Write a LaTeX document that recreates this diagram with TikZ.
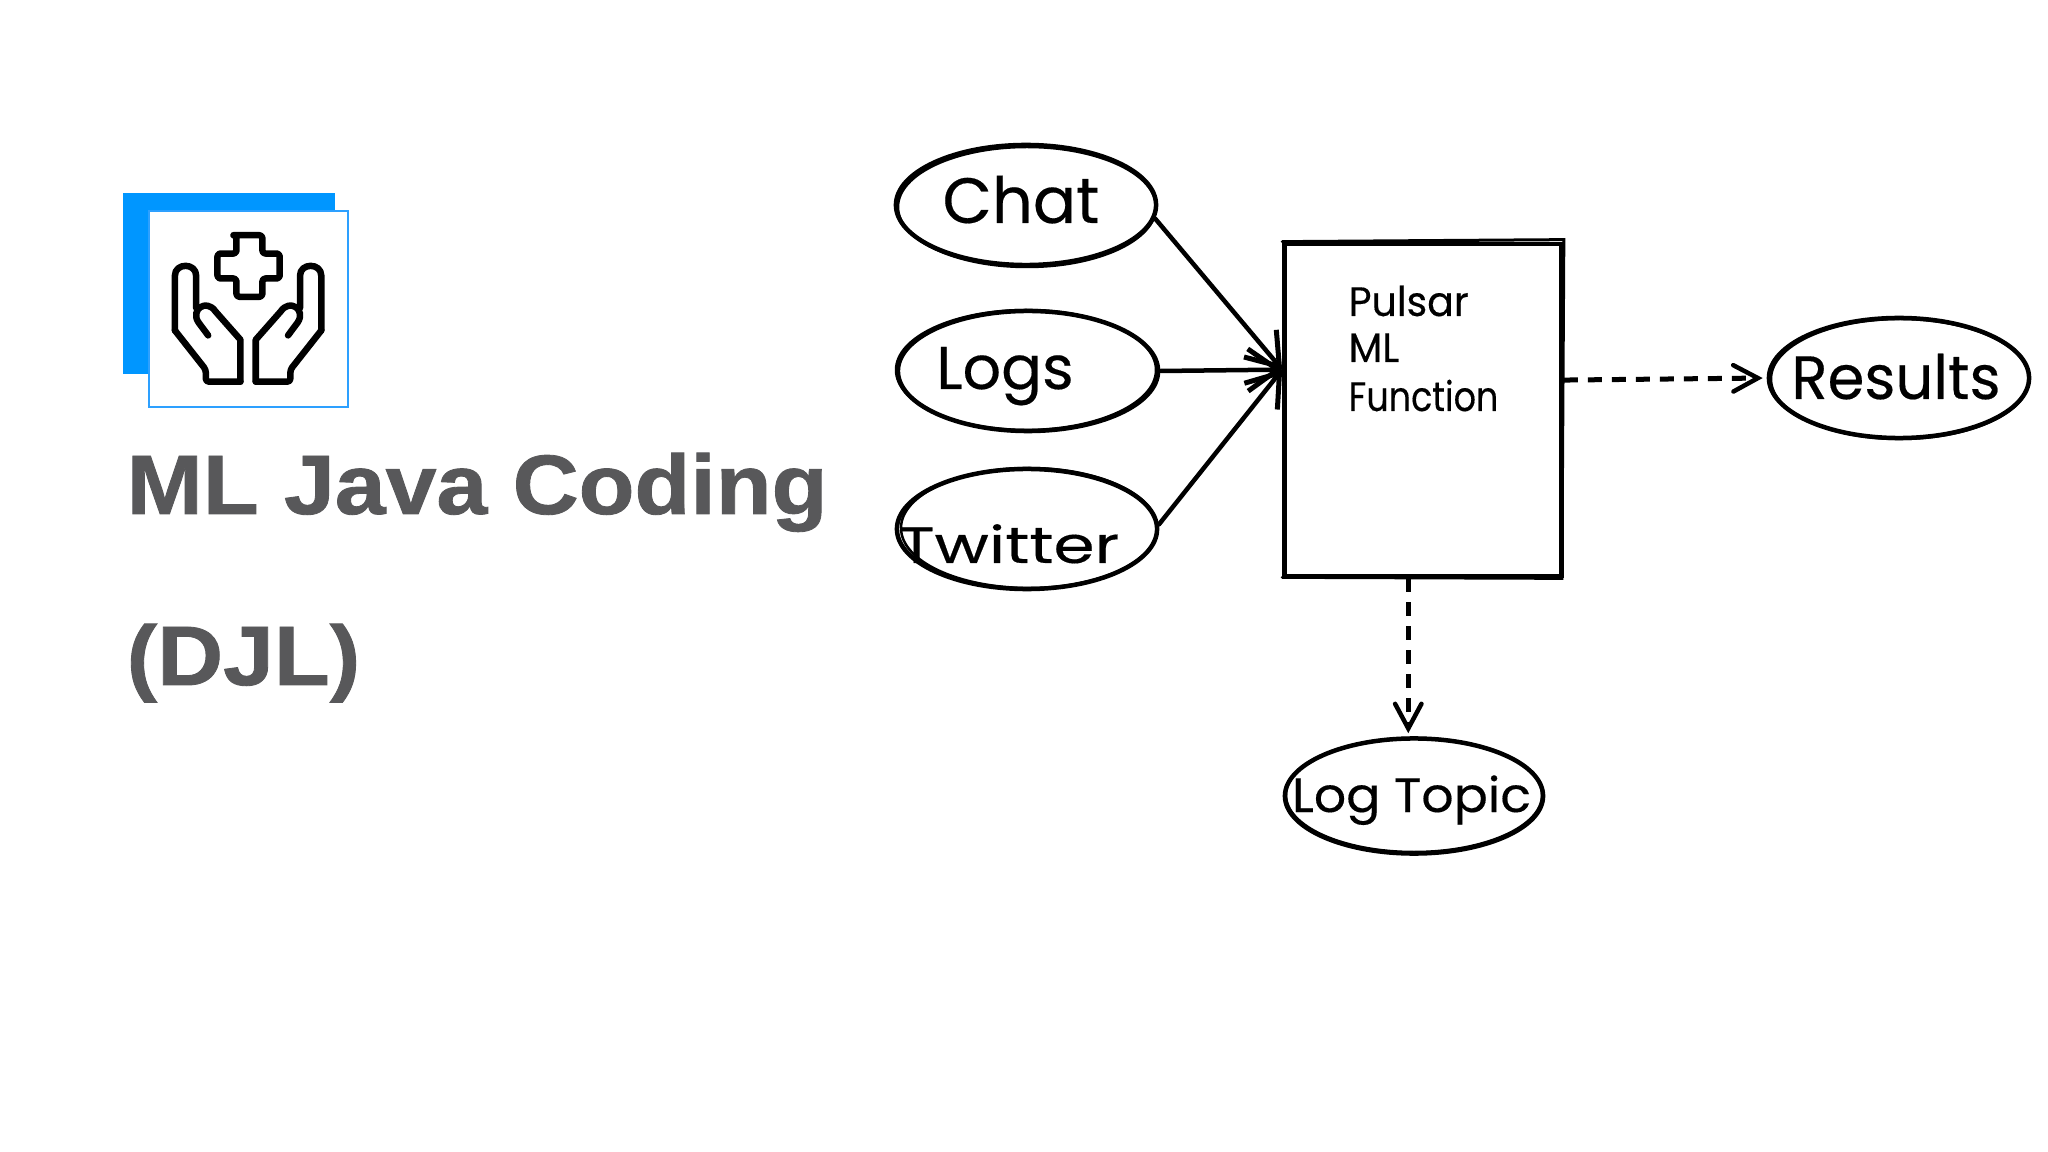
\documentclass[tikz,border=0pt]{standalone}
\usepackage{fontspec}
\usepackage{graphicx}
\usetikzlibrary{shapes.geometric,arrows.meta}
\newfontfamily\titlefont{Liberation Sans}[FakeStretch=1.083,BoldFeatures={FakeBold=1}]
\newfontfamily\handfont{Poppins}[FakeBold=0.3]
\definecolor{blueback}{RGB}{0,150,255}
\definecolor{blueedge}{RGB}{45,160,255}
\definecolor{titlegray}{RGB}{88,88,90}
\tikzset{
  x=0.01cm,y=-0.01cm,
  ink/.style={draw=black,line width=0.045cm,fill=none},
  oval/.style={ellipse,ink,inner sep=0pt,minimum width=2.6cm,minimum height=1.2cm},
  pen/.style={draw=black,line width=0.025cm,line cap=round},
  handtext/.style={anchor=base,inner sep=0pt,font=\handfont},
  titletext/.style={anchor=base west,inner sep=0pt,text=titlegray,font=\titlefont\bfseries\fontsize{24}{24}\selectfont},
  solidlink/.style={ink,line cap=round,-{Straight Barb[length=8.5pt,width=12pt,line width=0.05cm]}},
  dashlink/.style={ink,line width=0.05cm,line cap=butt,dash pattern=on 0.14cm off 0.10cm,-{Straight Barb[length=7pt,width=7.5pt,line width=0.045cm,line cap=round]}},
  iconline/.style={draw=black,line width=0.065cm,line join=round,line cap=round,rounded corners=0.03cm},
  iconcurve/.style={draw=black,line width=0.065cm,line join=round,line cap=round},
}
\begin{document}
\begin{tikzpicture}
\useasboundingbox (0,0) rectangle (2048,1152);
\fill[white] (0,0) rectangle (2048,1152);

% logo
\fill[blueback] (123,193) rectangle (335,374);
\node[draw=blueedge,fill=white,line width=0.016cm,minimum width=1.99cm,minimum height=1.96cm,inner sep=0pt] (card) at (248.5,309) {};
\begin{scope}[shift={(100,170)},x=0.003333cm,y=-0.003333cm]
  \draw[iconline] (403,196) -- (488,196) -- (488,251) -- (540,251) -- (540,326) -- (488,326) -- (488,381) -- (410,381) -- (410,326) -- (353,326) -- (353,251) -- (410,251) -- (410,196) -- cycle;
  % left hand
  \draw[iconline] (422,636) -- (318,636) -- (318,600) -- (225,482);
  \draw[iconcurve] (225,482) -- (225,318) .. controls (225,278) and (289,278) .. (289,318) -- (289,415);
  \draw[iconcurve] (325,497) -- (296,458) .. controls (270,420) and (320,385) .. (347,425) -- (422,510) -- (422,636);
  % right hand
  \draw[iconline] (468,636) -- (572,636) -- (572,600) -- (665,482);
  \draw[iconcurve] (665,482) -- (665,318) .. controls (665,278) and (601,278) .. (601,318) -- (601,415);
  \draw[iconcurve] (565,497) -- (594,458) .. controls (620,420) and (570,385) .. (543,425) -- (468,510) -- (468,636);
\end{scope}

% title
\node[titletext] (title1) at (126,514) {ML Java Coding};
\node[titletext] (title2) at (126,685) {(DJL)};

% ovals
\node[oval] (chat) at (1026,205) {};
\node[oval] (logs) at (1028,371) {};
\node[oval] (twitter) at (1027,529) {};
\node[oval] (results) at (1899,378) {};
\node[oval,minimum width=2.58cm,minimum height=1.15cm] (logtopic) at (1414,796) {};

% pen pressure overlays
\draw[pen] (1027,207) ellipse (129 and 60);
\draw[pen] (1026,370) ellipse (130 and 60);
\draw[pen] (1029,528) ellipse (128 and 60);
\draw[pen] (1900,379) ellipse (129 and 60);
\draw[pen] (1414,795) ellipse (128 and 57);

% oval labels
\node[handtext] (chatlabel) at (1021,223) {\fontsize{18.2}{18.2}\selectfont Chat};
\node[handtext] (logslabel) at (1005,389) {\fontsize{17.2}{17.2}\selectfont Logs};
\node[handtext] (twitterlabel) at (1009,563) {\fontsize{14.5}{14.5}\selectfont\scalebox{1.3}[1]{Twitter}};
\node[handtext] (resultslabel) at (1896,399) {\fontsize{17.4}{17.4}\selectfont\scalebox{0.97}[1]{Results}};
\node[handtext] (logtopiclabel) at (1411.5,812) {\fontsize{13.7}{13.7}\selectfont\scalebox{1.05}[1]{Log Topic}};

% function box
\node[ink,minimum width=2.77cm,minimum height=3.32cm,inner sep=0pt] (fn) at (1423,410) {};
\draw[pen,line width=0.03cm] (fn.north west) -- ([yshift=0.02cm]fn.north east) -- ([xshift=-0.02cm]fn.south east) -- ([yshift=0.01cm]fn.south west);
\node[handtext,anchor=base west,font=\handfont\fontsize{11.7}{11.7}\selectfont] (pulsar) at (1348,316) {\scalebox{0.96}[1]{Pulsar}};
\node[handtext,anchor=base west,font=\handfont\fontsize{11.7}{11.7}\selectfont] (ml) at (1348,362) {\scalebox{0.95}[1]{ML}};
\node[handtext,anchor=base west,font=\handfont\fontsize{11.7}{11.7}\selectfont] (function) at (1348,411) {\scalebox{0.85}[1]{Function}};

% connectors
\draw[solidlink] (chat.-6.5) -- (fn.164);
\draw[solidlink] (logs.east) -- (fn.164);
\draw[solidlink] (twitter.2) -- (fn.164);
\draw[dashlink,shorten >=0.04cm] (fn.12.6) -- (results.west);
\draw[dashlink,shorten >=0.03cm] (fn.-95.6) -- (fn.-95.6 |- logtopic.north);
\end{tikzpicture}
\end{document}
